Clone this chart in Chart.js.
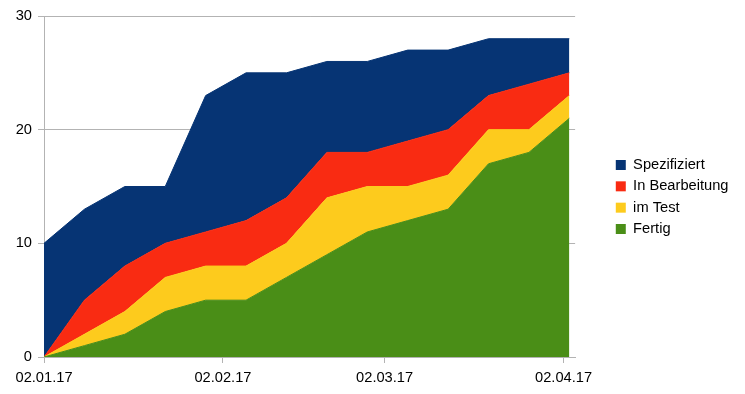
<!DOCTYPE html>
<html><head><meta charset="utf-8">
<script src="https://cdn.jsdelivr.net/npm/chart.js@4/dist/chart.umd.min.js"></script>
<style>html,body{margin:0;padding:0;background:#fff;}#c{display:block;}</style>
</head><body>
<canvas id="c" width="745" height="394"></canvas>
<script>
// ---- data ----
const dates = ['2017-01-02','2017-01-09','2017-01-16','2017-01-23','2017-01-30','2017-02-06','2017-02-13',
               '2017-02-20','2017-02-27','2017-03-06','2017-03-13','2017-03-20','2017-03-27','2017-04-03'];
const fertig         = [0, 1, 2, 4, 5, 5, 7, 9, 11, 12, 13, 17, 18, 21];
const imTest         = [0, 1, 2, 3, 3, 3, 3, 5, 4, 3, 3, 3, 2, 2];
const inBearbeitung  = [0, 3, 4, 3, 3, 4, 4, 4, 3, 4, 4, 3, 4, 2];
const spezifiziert   = [10, 8, 7, 5, 12, 13, 11, 8, 8, 8, 7, 5, 4, 3];
const seriesNames    = ['Fertig', 'im Test', 'In Bearbeitung', 'Spezifiziert'];
const tickDates  = ['2017-01-02','2017-02-02','2017-03-02','2017-04-02'];
const tickLabels = ['02.01.17','02.02.17','02.03.17','02.04.17'];
const axisStart = '2017-01-02', axisEnd = '2017-04-04';
const yTicks = [0, 10, 20, 30];

// ---- helpers ----
const DAY = 86400000;
const toDay = s => (Date.parse(s) - Date.parse(axisStart)) / DAY;
const colors = ['#4a8e17', '#fdcb1d', '#f92b12', '#063474'];
const FAMILY = '"Liberation Sans", Arial, sans-serif';
const FONT = {family: FAMILY, size: 14.67};

const seriesData = [fertig, imTest, inBearbeitung, spezifiziert];
const datasets = seriesData.map((vals, i) => ({
  label: seriesNames[i],
  data: vals.map((v, k) => ({x: toDay(dates[k]), y: v})),
  backgroundColor: colors[i],
  borderColor: colors[i],
  borderWidth: 1,
  pointRadius: 0,
  tension: 0,
  fill: i === 0 ? 'origin' : '-1'
}));

const layoutTweaks = {
  id: 'layoutTweaks',
  beforeInit(chart) {
    Chart.layouts.addBox(chart, {
      position: 'right', weight: 500, fullSize: false,
      options: {stackWeight: 1},
      left: 0, top: 0, right: 0, bottom: 0, width: 0, height: 0,
      isHorizontal() { return false; },
      update(maxW, maxH) { this.width = 34; this.height = maxH; },
      draw() {}
    });
  },
  afterLayout(chart) {
    chart.scales.x.bottom = chart.height;
  }
};

new Chart(document.getElementById('c'), {
  type: 'line',
  data: {datasets},
  plugins: [layoutTweaks],
  options: {
    responsive: false,
    animation: false,
    devicePixelRatio: 1,
    layout: {padding: {left: 9.7, top: 16, right: 16, bottom: 16}},
    plugins: {
      tooltip: {enabled: false},
      legend: {
        position: 'right',
        reverse: true,
        labels: {
          font: FONT, color: '#000', boxWidth: 10, boxHeight: 10, padding: 6.67,
          generateLabels(chart) {
            return Chart.defaults.plugins.legend.labels.generateLabels(chart)
              .map(l => Object.assign(l, {lineWidth: 0}));
          }
        }
      }
    },
    scales: {
      x: {
        type: 'linear',
        min: 0, max: toDay(axisEnd),
        afterBuildTicks(scale) { scale.ticks = tickDates.map(d => ({value: toDay(d)})); },
        afterFit(scale) { scale.height = 21; },
        ticks: {
          font: FONT, color: '#000',
          maxRotation: 0, autoSkip: false, padding: 6,
          callback: (v, i) => tickLabels[i]
        },
        grid: {drawOnChartArea: false, color: '#b3b3b3', tickLength: 6},
        border: {color: '#b3b3b3'}
      },
      y: {
        stacked: true,
        min: 0, max: 30,
        afterBuildTicks(scale) { scale.ticks = yTicks.map(v => ({value: v})); },
        ticks: {font: FONT, color: '#000', padding: 6},
        grid: {color: '#b3b3b3', tickLength: 6},
        border: {color: '#b3b3b3'}
      }
    }
  }
});
</script>
</body></html>
